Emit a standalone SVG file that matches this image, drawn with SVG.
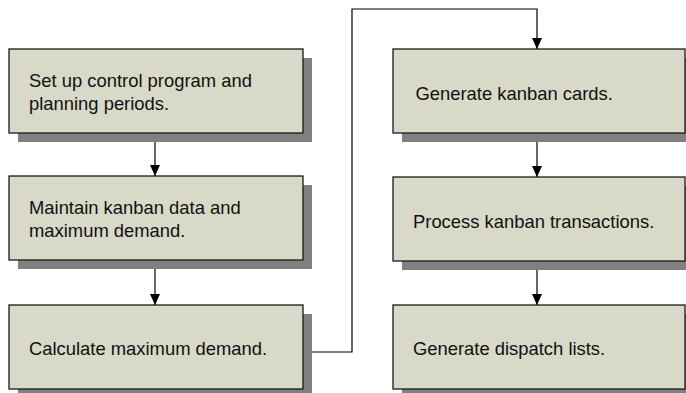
<svg xmlns="http://www.w3.org/2000/svg" width="686" height="393" viewBox="0 0 686 393">
  <style>
    .shadow { fill: #808080; }
    .box { fill: #D8D9C8; stroke: #1a1a1a; stroke-width: 1.3; }
    .label { font-family: "Liberation Sans", Arial, sans-serif; font-size: 18.4px; fill: #111; }
    .wire { fill: none; stroke: #000; stroke-width: 1.2; }
  </style>
  <defs>
    <!-- filled triangular arrowhead, tip at the line end -->
    <marker id="head" markerWidth="11" markerHeight="10" refX="11" refY="5" orient="auto" markerUnits="userSpaceOnUse" viewBox="0 0 11 10">
      <path d="M0,0 L11,5 L0,10 Z" fill="#000"/>
    </marker>
  </defs>

  <rect width="686" height="393" fill="#fff"/>

  <g id="connectors">
    <line class="wire" x1="155" y1="133" x2="155" y2="176" marker-end="url(#head)"/>
    <line class="wire" x1="155" y1="260" x2="155" y2="305" marker-end="url(#head)"/>
    <polyline class="wire" points="303,352 352,352 352,9 537,9 537,49" marker-end="url(#head)"/>
    <line class="wire" x1="537" y1="133" x2="537" y2="177" marker-end="url(#head)"/>
    <line class="wire" x1="537" y1="261" x2="537" y2="305" marker-end="url(#head)"/>
  </g>

  <g id="setup">
    <rect class="shadow" x="18" y="58" width="294" height="84"/>
    <rect class="box" x="9" y="49" width="294" height="84"/>
    <text class="label" x="29" y="86.5">Set up control program and</text>
    <text class="label" x="29" y="109.5">planning periods.</text>
  </g>

  <g id="maintain">
    <rect class="shadow" x="18" y="185" width="294" height="84"/>
    <rect class="box" x="9" y="176" width="294" height="84"/>
    <text class="label" x="29" y="214">Maintain kanban data and</text>
    <text class="label" x="29" y="237">maximum demand.</text>
  </g>

  <g id="calculate">
    <rect class="shadow" x="18" y="314" width="294" height="84"/>
    <rect class="box" x="9" y="305" width="294" height="84"/>
    <text class="label" x="29" y="355">Calculate maximum demand.</text>
  </g>

  <g id="cards">
    <rect class="shadow" x="402" y="58" width="292" height="84"/>
    <rect class="box" x="393" y="49" width="292" height="84"/>
    <text class="label" x="415.5" y="100">Generate kanban cards.</text>
  </g>

  <g id="transactions">
    <rect class="shadow" x="402" y="186" width="292" height="84"/>
    <rect class="box" x="393" y="177" width="292" height="84"/>
    <text class="label" x="413" y="228">Process kanban transactions.</text>
  </g>

  <g id="dispatch">
    <rect class="shadow" x="402" y="314" width="292" height="84"/>
    <rect class="box" x="393" y="305" width="292" height="84"/>
    <text class="label" x="413" y="355">Generate dispatch lists.</text>
  </g>
</svg>
